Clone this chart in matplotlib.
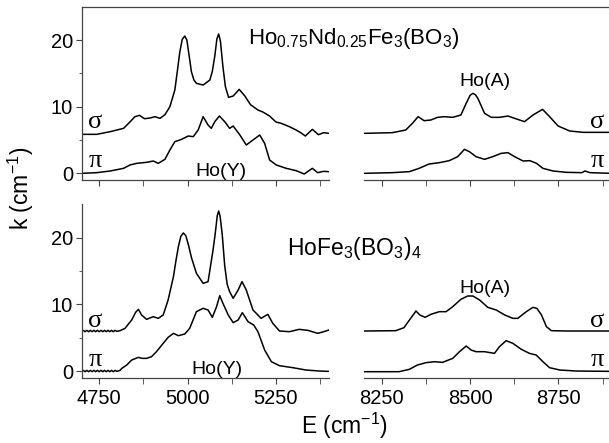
import matplotlib
matplotlib.use('Agg')
import matplotlib.pyplot as plt
from matplotlib.lines import Line2D

plt.rcParams['font.family'] = 'Liberation Sans'
plt.rcParams['mathtext.default'] = 'regular'

# Ho0.75Nd0.25Fe3(BO3)4, low-energy band (Ho(Y))
nd_left_sigma_E = [4700, 4743, 4781, 4819, 4835, 4851, 4864, 4878, 4894, 4908, 4922, 4936, 4950, 4964,
                   4971, 4978, 4985, 4992, 4998, 5004, 5011, 5018, 5025, 5044, 5063, 5070, 5077, 5083,
                   5088, 5093, 5100, 5107, 5116, 5129, 5146, 5162, 5178, 5199, 5213, 5232, 5250, 5265,
                   5288, 5307, 5320, 5333, 5353, 5370, 5385, 5400]
nd_left_sigma_k = [5.85, 5.85, 6.25, 6.75, 7.6, 8.5, 8.7, 8.2, 8.3, 8.5, 8.25, 8.8, 10, 12.5,
                   15.3, 18.2, 20.1, 20.6, 20.0, 17.8, 15.2, 14.0, 13.5, 13.25, 14, 15.3, 17.6, 20.2,
                   20.9, 19.8, 16, 13.0, 11.4, 11.6, 12.6, 11.6, 10.3, 9.5, 9.2, 8.6, 7.7, 7.5,
                   7.0, 6.5, 6.1, 5.6, 6.6, 5.8, 6.1, 6.0]
nd_left_pi_E = [4700, 4743, 4781, 4819, 4837, 4856, 4884, 4903, 4917, 4936, 4950, 4964, 4983, 5002,
                5016, 5030, 5044, 5058, 5067, 5077, 5090, 5105, 5119, 5129, 5148, 5166, 5185, 5204,
                5218, 5232, 5251, 5279, 5307, 5330, 5353, 5368, 5385, 5400]
nd_left_pi_k = [0, 0.1, 0.35, 0.75, 1.25, 1.5, 1.65, 1.85, 1.5, 2.1, 3.5, 4.75, 5.1, 5.6,
                5.5, 6.5, 8.5, 7.25, 6.75, 7.75, 8.6, 7.75, 6.75, 7.1, 5.75, 4.25, 5.0, 5.75,
                4.5, 2.0, 1.25, 0.75, 0.4, -0.1, 0.75, 0.1, 0.3, 0.25]

# Ho0.75Nd0.25Fe3(BO3)4, high-energy band (Ho(A))
nd_right_sigma_E = [8200, 8280, 8318, 8337, 8353, 8370, 8389, 8408, 8427, 8451, 8474, 8489, 8500, 8508,
                    8515, 8522, 8541, 8560, 8583, 8607, 8626, 8654, 8678, 8705, 8725, 8749, 8782, 8820,
                    8867, 8900]
nd_right_sigma_k = [6.0, 6.1, 6.5, 7.5, 8.5, 7.9, 8.0, 8.4, 8.5, 8.4, 8.75, 10.5, 11.7, 12.0,
                    11.8, 11.25, 9.0, 8.4, 8.4, 8.6, 8.25, 7.75, 8.75, 9.6, 8.5, 7.1, 6.35, 6.15,
                    6.15, 6.15]
nd_right_pi_E = [8200, 8280, 8328, 8356, 8384, 8413, 8441, 8465, 8484, 8498, 8517, 8541, 8564, 8588,
                 8607, 8626, 8650, 8669, 8688, 8706, 8735, 8773, 8816, 8825, 8839, 8900]
nd_right_pi_k = [0, 0.1, 0.25, 0.75, 1.4, 1.6, 1.9, 2.5, 3.6, 3.25, 2.5, 2.1, 2.5, 3.0,
                 3.1, 2.5, 1.85, 1.9, 1.5, 0.75, 0.35, 0.15, 0.1, 0.35, 0.1, 0]

# HoFe3(BO3)4, low-energy band
ho_left_sigma_E = [4700, 4705, 4710, 4715, 4720, 4725, 4730, 4735, 4740, 4745, 4750, 4755, 4760, 4765,
                   4770, 4775, 4780, 4785, 4790, 4795, 4800, 4809, 4823, 4842, 4853, 4861, 4870, 4884,
                   4903, 4917, 4931, 4945, 4960, 4967, 4974, 4981, 4988, 4995, 5003, 5011, 5025, 5044,
                   5058, 5072, 5078, 5084, 5088, 5092, 5098, 5105, 5112, 5119, 5129, 5143, 5154, 5166,
                   5185, 5208, 5227, 5241, 5260, 5288, 5316, 5340, 5368, 5385, 5400]
ho_left_sigma_k = [6.0, 6.1, 5.9, 6.1, 5.9, 6.1, 5.9, 6.1, 5.9, 6.1, 5.9, 6.1, 5.9, 6.1,
                   5.9, 6.1, 5.9, 6.1, 5.9, 6.1, 5.95, 6.05, 6.4, 7.65, 8.8, 9.25, 8.4, 7.75,
                   8.15, 7.9, 8.4, 10.65, 14.15, 16.5, 18.65, 20.2, 20.7, 20.3, 18.8, 17.0, 14.65, 13.15,
                   13.4, 18.15, 20.5, 23.3, 24.0, 23.2, 20.5, 15.8, 13.0, 11.9, 10.9, 12.15, 13.4, 12.15,
                   9.15, 7.9, 8.5, 7.15, 6.0, 5.9, 6.25, 6.1, 5.65, 5.9, 6.15]
ho_left_pi_E = [4700, 4705, 4710, 4715, 4720, 4725, 4730, 4735, 4740, 4745, 4750, 4755, 4760, 4765,
                4770, 4775, 4780, 4785, 4790, 4795, 4800, 4809, 4814, 4828, 4842, 4861, 4872, 4884,
                4898, 4912, 4931, 4945, 4960, 4974, 4992, 5006, 5025, 5044, 5058, 5070, 5082, 5091,
                5100, 5115, 5129, 5143, 5155, 5171, 5187, 5199, 5218, 5237, 5260, 5298, 5335, 5373, 5400]
ho_left_pi_k = [0, 0.1, -0.1, 0.1, -0.1, 0.1, -0.1, 0.1, -0.1, 0.1, -0.1, 0.1, -0.1, 0.1,
                -0.1, 0.1, -0.1, 0.1, -0.1, 0.1, -0.05, 0.1, 0.4, 0.9, 1.65, 2.05, 1.9, 1.9,
                2.15, 2.9, 4.15, 5.05, 5.65, 5.3, 5.55, 6.4, 8.9, 9.4, 9.15, 8.05, 9.65, 11.3,
                10.15, 8.4, 7.25, 7.65, 8.75, 7.4, 6.9, 5.9, 3.15, 1.4, 0.8, 0.5, 0.15, 0.0, -0.05]

# HoFe3(BO3)4, high-energy band
ho_right_sigma_E = [8200, 8290, 8313, 8332, 8347, 8358, 8373, 8389, 8413, 8432, 8451, 8474, 8493, 8508,
                    8527, 8550, 8574, 8598, 8621, 8635, 8659, 8678, 8689, 8702, 8716, 8730, 8773, 8900]
ho_right_sigma_k = [6.0, 6.05, 6.5, 7.9, 9.0, 8.4, 8.05, 8.5, 8.9, 8.9, 9.65, 10.75, 11.25, 11.25,
                    10.65, 9.55, 9.15, 8.4, 7.9, 7.9, 8.9, 9.55, 9.4, 8.4, 6.65, 6.05, 6.0, 6.0]
ho_right_pi_E = [8200, 8299, 8328, 8351, 8375, 8399, 8422, 8451, 8470, 8489, 8503, 8517, 8541, 8569,
                 8583, 8602, 8621, 8645, 8668, 8687, 8706, 8725, 8754, 8801, 8900]
ho_right_pi_k = [-0.1, -0.1, 0.25, 0.9, 1.25, 1.4, 1.3, 1.9, 2.9, 3.75, 3.15, 2.9, 2.9, 2.65,
                 3.65, 4.55, 4.15, 3.25, 2.65, 2.4, 1.4, 0.5, 0.15, 0, -0.05]

left_ticks = [4750, 5000, 5250]
right_ticks = [8250, 8500, 8750]
minor_left = [4875, 5125, 5375]
minor_right = [8375, 8625, 8875]

W, H = 609, 443
fig = plt.figure(figsize=(W / 100, H / 100), dpi=100)


def box(x0, y0, x1, y1):
    # pixel box -> figure fraction rect
    return [x0 / W, 1 - y1 / H, (x1 - x0) / W, (y1 - y0) / H]


spine_col = '#444444'
ax_tl = fig.add_axes(box(81.5, 6.7, 329, 180))
ax_tr = fig.add_axes(box(364, 6.7, 611.5, 180))
ax_bl = fig.add_axes(box(81.5, 204.3, 329, 377.7))
ax_br = fig.add_axes(box(364, 204.3, 611.5, 377.7))

for ax in [ax_tl, ax_tr, ax_bl, ax_br]:
    ax.set_ylim(-1, 25)
    ax.set_facecolor('none')
    for s in ax.spines.values():
        s.set_color(spine_col)
        s.set_linewidth(0.9)
    ax.spines['right'].set_visible(False)
    ax.spines['top'].set_visible(False)
    ax.tick_params(which='both', direction='out', color=spine_col, labelsize=14.5)
    ax.tick_params(which='major', length=4)
    ax.tick_params(which='minor', length=4)
    ax.tick_params(axis='x', pad=4)
    ax.tick_params(axis='y', pad=2)

for ax in [ax_tl, ax_bl]:
    ax.set_xlim(4700, 5400)
    ax.set_xticks(left_ticks)
    ax.set_xticks(minor_left, minor=True)
    ax.set_yticks([0, 10, 20])
    ax.set_yticks([5, 15], minor=True)
    ax.tick_params(axis='y', which='minor', length=2.5)

for ax in [ax_tr, ax_br]:
    ax.set_xlim(8200, 8900)
    ax.set_xticks(right_ticks)
    ax.set_xticks(minor_right, minor=True)
    ax.spines['left'].set_visible(False)
    ax.set_yticks([])

for ax in [ax_tl, ax_tr]:
    ax.tick_params(labelbottom=False)

# continuous top frame line over the upper panels
fig.add_artist(Line2D([81.5 / W, 1.0], [1 - 6.7 / H, 1 - 6.7 / H], color=spine_col, lw=0.9))

lw = 1.1
ax_tl.plot(nd_left_sigma_E, nd_left_sigma_k, color='black', lw=lw)
ax_tl.plot(nd_left_pi_E, nd_left_pi_k, color='black', lw=lw)
ax_tr.plot(nd_right_sigma_E, nd_right_sigma_k, color='black', lw=lw)
ax_tr.plot(nd_right_pi_E, nd_right_pi_k, color='black', lw=lw)
ax_bl.plot(ho_left_sigma_E, ho_left_sigma_k, color='black', lw=lw)
ax_bl.plot(ho_left_pi_E, ho_left_pi_k, color='black', lw=lw)
ax_br.plot(ho_right_sigma_E, ho_right_sigma_k, color='black', lw=lw)
ax_br.plot(ho_right_pi_E, ho_right_pi_k, color='black', lw=lw)


def ftext(px, py, s, **kw):
    fig.text(px / W, 1 - py / H, s, **kw)


ftext(248, 44, 'Ho$_{0.75}$Nd$_{0.25}$Fe$_3$(BO$_3$)', fontsize=16, ha='left', va='baseline')
ftext(287, 255, 'HoFe$_3$(BO$_3$)$_4$', fontsize=16.5, ha='left', va='baseline')
ftext(485, 86, 'Ho(A)', fontsize=14, ha='center', va='baseline')
ftext(485, 293, 'Ho(A)', fontsize=14, ha='center', va='baseline')
ftext(221, 176, 'Ho(Y)', fontsize=14, ha='center', va='baseline')
ftext(217, 374, 'Ho(Y)', fontsize=14, ha='center', va='baseline')

greek = dict(fontsize=19, family='Liberation Serif', ha='center', va='baseline')
ftext(95, 128, 'σ', **greek)
ftext(95, 167, 'π', **greek)
ftext(597, 128, 'σ', **greek)
ftext(597, 167, 'π', **greek)
ftext(95, 327, 'σ', **greek)
ftext(95, 366, 'π', **greek)
ftext(597, 327, 'σ', **greek)
ftext(597, 366, 'π', **greek)

ftext(21, 188, 'k (cm$^{-1}$)', fontsize=16.5, rotation=90, ha='center', va='center')
ftext(344, 434, 'E (cm$^{-1}$)', fontsize=16.5, ha='center', va='baseline')

fig.savefig('out.png', dpi=100)
